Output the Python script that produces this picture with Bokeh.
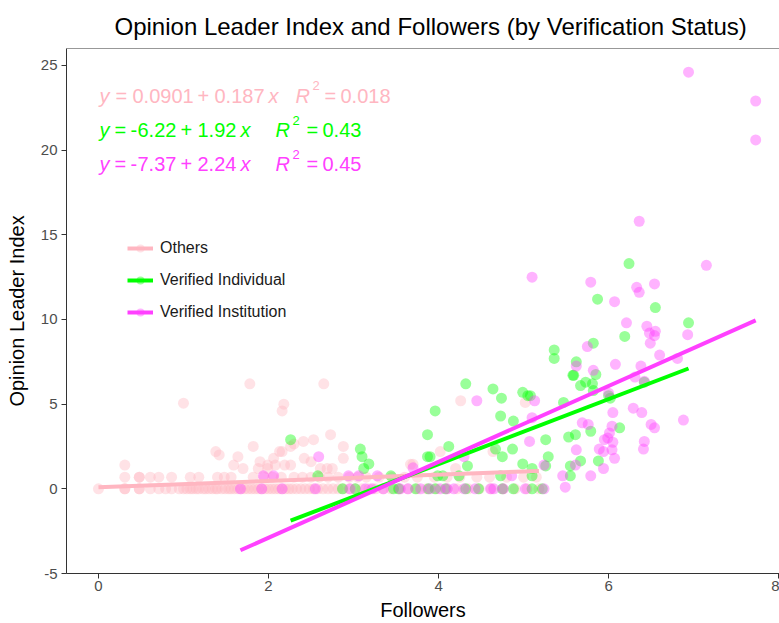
from bokeh.plotting import figure
from bokeh.models import ColumnDataSource, Legend, LegendItem, FixedTicker, Span
from bokeh.core.properties import value
from bokeh.embed import file_html
from bokeh.resources import INLINE

# ---------------- data ----------------
groups = ["Others", "Verified Individual", "Verified Institution"]
colors = ["#FFB6C1", "#00FF00", "#FF40FF"]

# regression results shown on the chart
intercepts = [0.0901, -6.22, -7.37]
slopes = [0.187, 1.92, 2.24]
intercept_txt = ["0.0901", "6.22", "7.37"]
slope_txt = ["0.187", "1.92", "2.24"]
r2_txt = ["0.018", "0.43", "0.45"]

x_ticks = [0, 2, 4, 6, 8]
y_ticks = [-5, 0, 5, 10, 15, 20, 25]

others_pts = [
    (0, 0), (0.31, 0), (0.31, 0), (0.48, 0), (0.48, 0), (0.61, 0), (0.71, 0), (0.79, 0), (0.86, 0), (0.95, 0),
    (1.0, 0), (1.04, 0), (1.08, 0), (1.11, 0), (1.15, 0), (1.18, 0), (1.23, 0), (1.26, 0), (1.3, 0), (1.34, 0),
    (1.38, 0), (1.4, 0), (1.45, 0), (1.49, 0), (1.53, 0), (1.56, 0), (1.6, 0), (1.64, 0), (1.68, 0), (1.72, 0),
    (1.76, 0), (1.8, 0), (1.84, 0), (1.88, 0), (1.92, 0), (1.96, 0), (2.0, 0), (2.04, 0), (2.08, 0), (2.12, 0),
    (2.16, 0), (2.2, 0), (2.24, 0), (2.28, 0), (2.33, 0), (2.38, 0), (2.43, 0), (2.48, 0), (2.53, 0), (2.58, 0),
    (2.64, 0), (2.7, 0), (2.76, 0), (2.82, 0), (2.88, 0), (2.95, 0), (3.02, 0), (3.1, 0), (3.18, 0), (3.26, 0),
    (3.35, 0), (3.44, 0), (3.54, 0), (3.64, 0), (3.75, 0), (3.86, 0), (3.98, 0), (4.1, 0), (4.22, 0), (4.35, 0),
    (4.48, 0), (4.62, 0), (4.76, 0), (4.9, 0), (5.04, 0), (5.18, 0),
    (0.31, 0.69), (0.48, 0.69), (0.48, 0.69), (0.61, 0.69), (0.71, 0.69), (0.86, 0.69), (1.08, 0.69), (1.18, 0.69),
    (1.4, 0.69), (1.48, 0.69), (1.56, 0.69), (1.82, 0.69), (1.95, 0.69), (2.05, 0.69), (2.15, 0.69), (2.3, 0.69),
    (2.4, 0.69), (2.5, 0.69), (2.6, 0.69), (2.7, 0.69), (2.82, 0.69), (2.95, 0.69), (3.05, 0.69), (3.15, 0.69),
    (3.3, 0.69), (3.45, 0.69), (3.6, 0.69), (3.75, 0.69), (3.95, 0.69), (4.1, 0.69), (4.25, 0.69), (4.45, 0.69),
    (4.6, 0.69), (4.8, 0.69), (5.0, 0.69), (5.15, 0.69),
    (1.0, 5.06), (1.78, 6.2), (2.65, 6.2), (2.18, 5.0), (2.16, 4.6), (2.73, 3.2), (2.53, 2.9), (1.82, 2.5),
    (1.38, 2.2), (1.42, 2.0), (1.64, 1.9), (1.59, 1.4), (1.7, 1.2), (0.31, 1.4), (2.88, 2.5), (2.88, 1.8),
    (2.3, 2.65), (2.26, 2.5), (2.41, 2.8), (2.13, 2.2), (2.16, 2.2), (2.06, 1.8), (1.99, 1.4), (2.08, 1.4),
    (2.19, 1.4), (2.26, 1.4), (1.88, 1.2), (1.99, 1.2), (2.61, 1.2), (2.69, 1.2), (2.75, 1.2), (3.67, 1.45),
    (3.7, 1.45), (4.26, 5.2), (5.02, 5.1), (4.02, 2.2), (4.64, 2.2), (4.2, 1.2), (2.42, 1.8), (2.5, 1.6), (1.9, 1.6),
]

individual_pts = [
    (2.26, 2.9), (3.08, 2.35), (3.1, 1.9), (3.18, 1.47), (3.12, 1.2), (3.44, 0.77), (3.87, 3.2), (3.87, 1.9),
    (2.58, 0.77), (2.87, 0), (3.02, 0), (3.47, 0), (3.53, 0), (3.73, 0), (3.88, 0), (3.96, 0), (4.08, 0),
    (4.32, 0), (4.47, 0), (4.75, 0), (4.88, 0), (5.1, 0), (5.22, 0),
    (4.32, 6.2), (4.64, 5.9), (4.74, 5.35), (4.99, 5.7), (5.05, 5.5), (5.08, 5.5), (5.58, 6.7), (5.67, 6.1),
    (5.73, 6.3), (5.81, 6.2), (5.82, 5.8), (3.96, 4.6), (4.73, 4.3), (4.88, 4.0), (5.26, 2.9), (5.53, 3.06),
    (5.61, 3.2), (5.79, 3.4), (4.12, 2.5), (4.67, 2.35), (4.87, 2.35), (4.75, 1.9), (3.9, 1.9), (4.34, 1.35),
    (5.29, 1.9), (5.26, 1.35), (5.55, 1.35), (5.67, 1.65), (4.99, 1.47), (5.1, 1.2), (4.73, 0.77), (3.99, 0.77),
    (4.05, 0.77), (4.24, 0.77), (5.55, 0.77), (5.1, 0.77),
    (6.24, 13.3), (5.87, 11.2), (6.55, 10.7), (6.94, 9.8), (6.19, 9.0), (5.82, 8.6), (5.36, 8.2), (5.36, 7.7),
    (5.62, 7.5), (5.59, 6.7), (5.85, 6.75), (6.02, 5.35), (5.47, 5.1), (6.13, 3.6), (5.88, 1.65), (6.42, 6.3),
    (6.0, 5.5),
]

institution_pts = [
    (6.94, 24.6), (7.73, 22.9), (7.73, 20.6), (6.36, 15.8), (7.15, 13.2), (6.33, 11.9), (6.36, 11.6), (6.54, 12.1),
    (6.07, 11.05), (6.21, 9.8), (6.45, 9.6), (6.48, 9.2), (6.55, 9.3), (6.54, 9.05), (6.93, 9.1), (6.49, 8.6),
    (6.6, 7.9), (6.81, 7.7), (6.08, 7.35), (6.38, 7.25), (5.79, 12.2), (5.1, 12.5), (5.75, 8.4), (5.62, 7.25),
    (5.82, 7.0), (6.31, 6.6), (6.42, 6.35), (6.0, 5.65), (5.13, 5.2), (4.45, 5.2), (6.05, 4.5), (6.29, 4.76),
    (6.39, 4.5), (5.1, 4.2), (5.69, 3.9), (5.76, 3.8), (6.04, 3.7), (6.5, 3.8), (6.54, 3.6), (6.88, 4.06),
    (6.01, 3.3), (5.99, 3.0), (5.95, 2.9), (6.05, 2.75), (5.07, 2.8), (5.89, 2.35), (5.94, 2.2), (6.04, 2.3),
    (6.07, 1.8), (6.42, 2.8), (6.41, 2.35), (5.62, 2.3), (5.61, 1.4), (5.94, 1.2), (5.79, 0.77), (5.46, 0.77),
    (4.86, 0.77), (4.3, 1.9), (5.24, 1.4), (3.7, 1.24), (5.49, 0.1), (2.59, 1.9), (1.94, 0.77), (2.06, 0.77),
    (2.94, 0.77), (3.06, 0.77), (3.28, 0.77),
    (1.67, 0), (1.92, 0), (2.16, 0), (2.55, 0), (2.96, 0), (3.14, 0), (3.22, 0), (3.35, 0), (3.55, 0), (3.64, 0),
    (3.79, 0), (3.9, 0), (4.02, 0), (4.1, 0), (4.18, 0), (4.3, 0), (4.43, 0), (4.61, 0), (4.65, 0), (4.76, 0),
    (5.02, 0), (5.24, 0),
]

# y positions (data units) of the equation labels
eq_y = [23.22, 21.18, 19.16]

FONT = "Liberation Sans"
X0, X1, Y0, Y1 = -0.376, 8.01, -5, 26

# ---------------- figure ----------------
p = figure(width=779, height=623, x_range=(X0, X1), y_range=(Y0, Y1),
           output_backend="svg", toolbar_location=None,
           min_border_left=66, min_border_right=0, min_border_top=48, min_border_bottom=49)
p.background_fill_color = "white"
p.border_fill_color = "white"
p.xgrid.visible = False
p.ygrid.visible = False
p.outline_line_color = None
p.add_layout(Span(location=Y1, dimension="width", line_color="#333333", line_width=1))

p.title.text = "Opinion Leader Index and Followers (by Verification Status)"
p.title.align = "left"
p.title.offset = 48
p.title.text_font = FONT
p.title.text_font_size = "24px"
p.title.text_font_style = "normal"
p.title.text_color = "#000000"
p.title.standoff = 18

for ax in (p.xaxis[0], p.yaxis[0]):
    ax.axis_line_color = "#333333"
    ax.major_tick_line_color = "#333333"
    ax.major_tick_out = 5
    ax.major_tick_in = 0
    ax.minor_tick_line_color = None
    ax.major_label_text_color = "#4d4d4d"
    ax.major_label_text_font = FONT
    ax.major_label_text_font_size = "15px"
    ax.axis_label_text_font = FONT
    ax.axis_label_text_font_size = "20px"
    ax.axis_label_text_font_style = "normal"
    ax.axis_label_text_color = "#000000"

p.xaxis.axis_label = "Followers"
p.yaxis.axis_label = "Opinion Leader Index"
p.xaxis.ticker = FixedTicker(ticks=x_ticks)
p.yaxis.ticker = FixedTicker(ticks=y_ticks)
p.yaxis.major_label_overrides = {t: str(t) for t in y_ticks}
p.xaxis.major_label_overrides = {t: str(t) for t in x_ticks}
p.xaxis.major_label_standoff = 2
p.yaxis.major_label_standoff = 4
p.xaxis.axis_label_standoff = 5
p.yaxis.axis_label_standoff = 10

all_pts = [others_pts, individual_pts, institution_pts]
scatter_r = []
for pts, col in zip(all_pts, colors):
    src = ColumnDataSource(dict(x=[a for a, b in pts], y=[b for a, b in pts]))
    r = p.scatter("x", "y", source=src, size=11, fill_color=col, fill_alpha=0.4,
                  line_color=None)
    scatter_r.append(r)

line_r = []
for pts, col, a, b in zip(all_pts, colors, intercepts, slopes):
    xs = [q[0] for q in pts]
    x0, x1 = min(xs), max(xs)
    r = p.line([x0, x1], [a + b * x0, a + b * x1], line_color=col, line_width=4)
    line_r.append(r)

# equation labels (token-wise so that italics / superscript can be shown)
tok_x, tok_y, tok_t, tok_off, tok_yoff, tok_col, tok_style, tok_size = [], [], [], [], [], [], [], []
for i in range(3):
    if intercepts[i] < 0:
        toks = [("y", 1, "italic"), ("=", 16, "normal"), ("-", 32, "normal"), (intercept_txt[i], 39, "normal"),
                ("+", 82, "normal"), (slope_txt[i], 99, "normal"), ("x", 142, "italic"),
                ("R", 177, "italic"), ("2", 194, "sup"), ("=", 208, "normal"), (r2_txt[i], 224, "normal")]
    else:
        toks = [("y", 1, "italic"), ("=", 17, "normal"), (intercept_txt[i], 34, "normal"),
                ("+", 99, "normal"), (slope_txt[i], 116, "normal"), ("x", 170, "italic"),
                ("R", 197, "italic"), ("2", 214, "sup"), ("=", 226, "normal"), (r2_txt[i], 242, "normal")]
    for t, off, st in toks:
        tok_x.append(0)
        tok_y.append(eq_y[i])
        tok_t.append(t)
        tok_off.append(off)
        tok_col.append(colors[i])
        if st == "sup":
            tok_yoff.append(-10)
            tok_style.append("normal")
            tok_size.append("13px")
        else:
            tok_yoff.append(0)
            tok_style.append(st)
            tok_size.append("20px")

eq_src = ColumnDataSource(dict(x=tok_x, y=tok_y, text=tok_t, xo=tok_off, yo=tok_yoff,
                               col=tok_col, st=tok_style, sz=tok_size))
p.text("x", "y", text="text", source=eq_src, x_offset="xo", y_offset="yo",
       text_color="col", text_font_style="st", text_font_size="sz",
       text_font=value(FONT), text_align="left", text_baseline="alphabetic")

items = [LegendItem(label=g, renderers=[line_r[i], scatter_r[i]]) for i, g in enumerate(groups)]
legend = Legend(items=items, location=(61, 251), glyph_width=26, glyph_height=20,
                label_height=20, spacing=12, padding=10, label_standoff=7,
                border_line_color=None, background_fill_alpha=0,
                label_text_font=FONT, label_text_font_size="16px", label_text_color="#1a1a1a")
p.add_layout(legend)

open("out.html", "w").write(file_html(p, INLINE))
